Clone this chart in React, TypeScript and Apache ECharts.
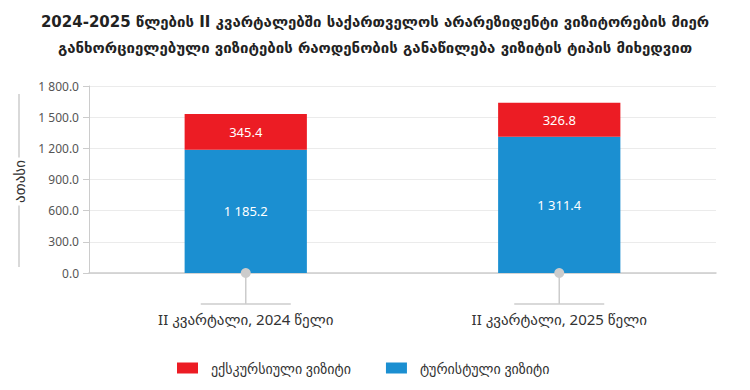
import React, { useEffect, useRef } from "react";
import * as echarts from "echarts";

const titleLines = [
  "2024-2025 წლების II კვარტალებში საქართველოს არარეზიდენტი ვიზიტორების მიერ",
  "განხორციელებული ვიზიტების რაოდენობის განაწილება ვიზიტის ტიპის მიხედვით",
];
const categories = ["II კვარტალი, 2024 წელი", "II კვარტალი, 2025 წელი"];
const seriesNames = ["ექსკურსიული ვიზიტი", "ტურისტული ვიზიტი"];
const excursion = [345.4, 326.8];
const tourist = [1185.2, 1311.4];
const yMin = 0;
const yMax = 1800;
const yInterval = 300;
const yAxisName = "ათასი";

const FONT = "'Noto Sans', 'DejaVu Sans', sans-serif";
const RED = "#ec1c24";
const BLUE = "#1b8fd1";
const GREY = "#cccccc";

function fmt(v: number): string {
  const s = v.toFixed(1);
  const [i, d] = s.split(".");
  return i.replace(/\B(?=(\d{3})+(?!\d))/g, " ") + "." + d;
}

export default function App() {
  const ref = useRef<HTMLDivElement>(null);
  useEffect(() => {
    document.body.style.margin = "0";
    const chart = echarts.init(ref.current!, null, { renderer: "svg" });
    const labelCommon = {
      show: true,
      position: "inside",
      color: "#ffffff",
      fontSize: 13,
      fontFamily: FONT,
      formatter: (p: any) => fmt(p.value),
    };
    chart.setOption({
      animation: false,
      title: {
        text: titleLines.join("\n"),
        left: "center",
        top: 4,
        textStyle: {
          fontSize: 15,
          fontWeight: "bold",
          fontFamily: "'DejaVu Sans', sans-serif",
          color: "#222222",
          lineHeight: 26,
        },
      },
      legend: {
        data: seriesNames,
        left: 172,
        top: 356,
        itemWidth: 21,
        itemHeight: 11,
        itemGap: 35,
        icon: "rect",
        textStyle: {
          fontSize: 14,
          fontFamily: FONT,
          color: "#333333",
          padding: [0, 0, 0, 8],
        },
      },
      grid: { left: 89, right: 34, top: 86, bottom: 117 },
      xAxis: {
        type: "category",
        data: categories,
        axisLine: { lineStyle: { color: GREY, width: 1.5 } },
        axisTick: { show: false },
        axisLabel: {
          margin: 38,
          fontSize: 15,
          fontFamily: FONT,
          color: "#333333",
        },
      },
      yAxis: {
        type: "value",
        min: yMin,
        max: yMax,
        interval: yInterval,
        axisLine: { show: true, lineStyle: { color: GREY } },
        axisTick: { show: true, length: 6, lineStyle: { color: GREY } },
        splitLine: { lineStyle: { color: "#ebebeb" } },
        axisLabel: {
          fontSize: 12,
          fontFamily: FONT,
          color: "#555555",
          margin: 10,
          formatter: (v: number) => fmt(v),
        },
      },
      series: [
        {
          name: seriesNames[1],
          type: "bar",
          stack: "total",
          barWidth: "39%",
          data: tourist,
          itemStyle: { color: BLUE },
          label: labelCommon,
        },
        {
          name: seriesNames[0],
          type: "bar",
          stack: "total",
          barWidth: "39%",
          data: excursion,
          itemStyle: { color: RED },
          label: labelCommon,
        },
      ],
    });

    const y0 = chart.convertToPixel({ yAxisIndex: 0 }, yMin) as number;
    const yTop = chart.convertToPixel({ yAxisIndex: 0 }, yMax) as number;
    const mid = (y0 + yTop) / 2;
    const elements: any[] = [];
    categories.forEach((c) => {
      const x = chart.convertToPixel({ xAxisIndex: 0 }, c) as number;
      elements.push({
        type: "line",
        shape: { x1: x, y1: y0, x2: x, y2: y0 + 31 },
        style: { stroke: GREY, lineWidth: 1.5 },
        z: 100,
      });
      elements.push({
        type: "line",
        shape: { x1: x - 45, y1: y0 + 31, x2: x + 45, y2: y0 + 31 },
        style: { stroke: GREY, lineWidth: 1.5 },
        z: 100,
      });
      elements.push({
        type: "circle",
        shape: { cx: x, cy: y0, r: 5 },
        style: { fill: GREY },
        z: 101,
      });
    });
    const nameX = 19;
    elements.push({
      type: "line",
      shape: { x1: nameX, y1: yTop + 8, x2: nameX, y2: mid - 22 },
      style: { stroke: GREY, lineWidth: 1.5 },
    });
    elements.push({
      type: "line",
      shape: { x1: nameX, y1: mid + 26, x2: nameX, y2: y0 - 6 },
      style: { stroke: GREY, lineWidth: 1.5 },
    });
    elements.push({
      type: "text",
      x: nameX,
      y: mid + 2,
      rotation: Math.PI / 2,
      style: {
        text: yAxisName,
        fontSize: 15,
        fontFamily: FONT,
        fill: "#333333",
        align: "center",
        verticalAlign: "middle",
      },
    });
    chart.setOption({ graphic: elements });

    return () => chart.dispose();
  }, []);
  return <div ref={ref} style={{ width: 750, height: 390 }} />;
}
